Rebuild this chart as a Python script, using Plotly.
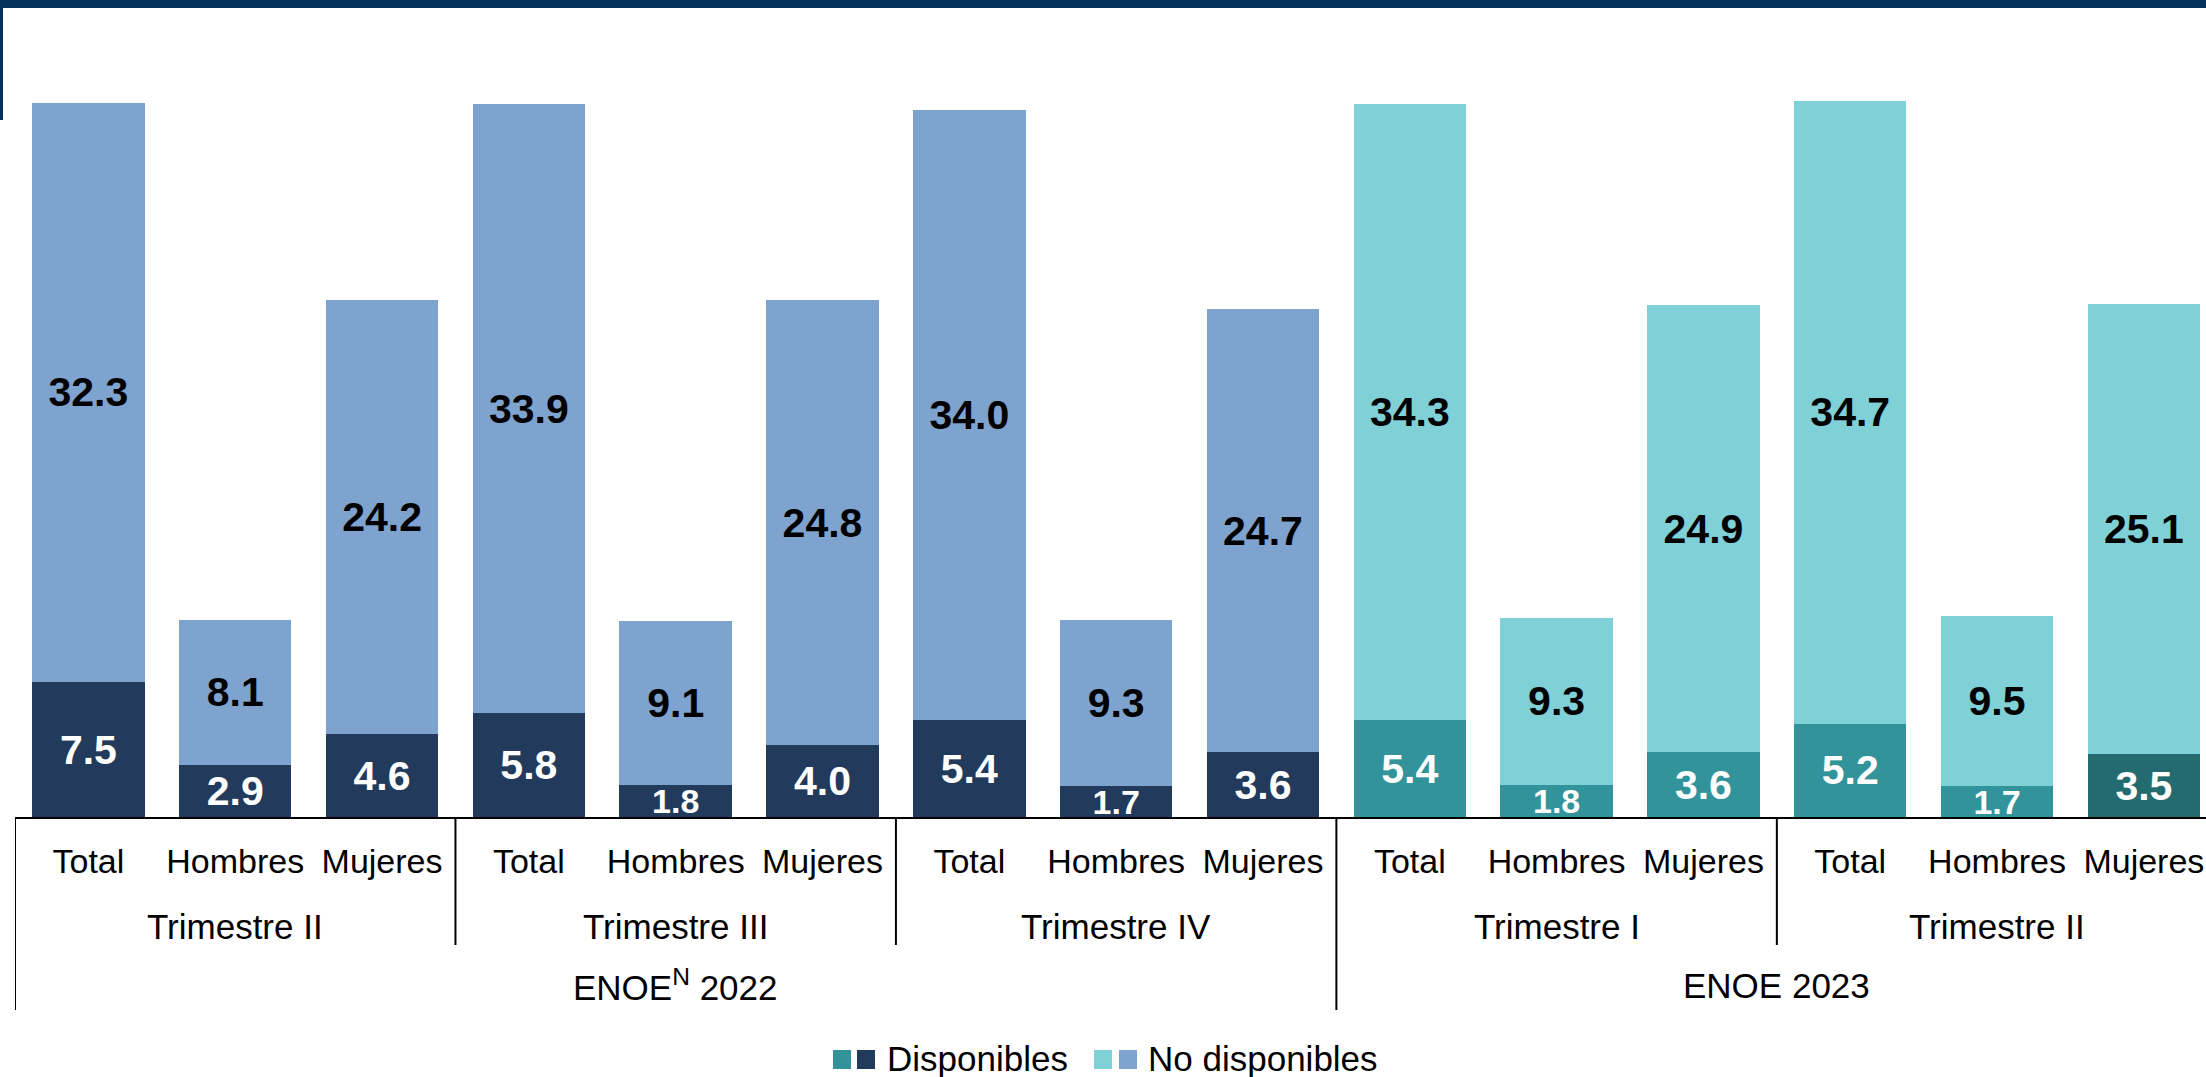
import plotly.graph_objects as go

# ---------------- data ----------------
categories = ["Total", "Hombres", "Mujeres"] * 5
trimestres = ["Trimestre II", "Trimestre III", "Trimestre IV", "Trimestre I", "Trimestre II"]
years = ["ENOE<sup>N</sup> 2022", "ENOE 2023"]
trimestres_per_year = [3, 2]
disponibles = [7.5, 2.9, 4.6, 5.8, 1.8, 4.0, 5.4, 1.7, 3.6, 5.4, 1.8, 3.6, 5.2, 1.7, 3.5]
no_disponibles = [32.3, 8.1, 24.2, 33.9, 9.1, 24.8, 34.0, 9.3, 24.7, 34.3, 9.3, 24.9, 34.7, 9.5, 25.1]
legend_labels = ["Disponibles", "No disponibles"]

# ---------------- styles ----------------
NAVY = "#223a5b"
LIGHT_BLUE = "#7fa3cf"
TEAL = "#33939a"
LIGHT_TEAL = "#80d0d7"
DARK_TEAL = "#236b6e"
BAND = "#03305a"
FONT = "Liberation Sans, Arial, sans-serif"

W, H = 2206, 1077
ML, MR, MT, MB = 15, 0, 10, 260
PW, PH = W - ML - MR, H - MT - MB
BASE = H - MB
PX_PER_UNIT = 17.95
CAT_PX = 146.82


def px_y(p):
    return (BASE - p) / PH


def px_x(p):
    return (p - ML) / PW


n = len(categories)
xs = list(range(n))
year_of_bar = []
for yi, nt in enumerate(trimestres_per_year):
    year_of_bar += [yi] * (nt * 3)

disp_colors = [NAVY if y == 0 else TEAL for y in year_of_bar]
disp_colors[-1] = DARK_TEAL
nodisp_colors = [LIGHT_BLUE if y == 0 else LIGHT_TEAL for y in year_of_bar]
disp_sizes = [34 if v < 2 else 41 for v in disponibles]

fig = go.Figure()
fig.add_trace(go.Bar(
    x=xs, y=disponibles, name=legend_labels[0], width=0.766,
    marker=dict(color=disp_colors, line=dict(width=0)),
    text=[f"{v:.1f}" for v in disponibles], textposition="inside",
    insidetextanchor="middle", constraintext="none",
    textfont=dict(family=FONT, size=disp_sizes, color="white", weight="bold"),
    showlegend=False, hoverinfo="skip",
))
fig.add_trace(go.Bar(
    x=xs, y=no_disponibles, name=legend_labels[1], width=0.766,
    marker=dict(color=nodisp_colors, line=dict(width=0)),
    text=[f"{v:.1f}" for v in no_disponibles], textposition="inside",
    insidetextanchor="middle", constraintext="none",
    textfont=dict(family=FONT, size=41, color="black", weight="bold"),
    showlegend=False, hoverinfo="skip",
))

x0 = -0.5
x1 = x0 + PW / CAT_PX

shapes = []
annotations = []

# dividers between trimesters / years
line_short = px_y(945)
line_long = px_y(1010)
year_bounds = [-0.5]
acc = 0
for nt in trimestres_per_year:
    acc += nt * 3
    year_bounds.append(acc - 0.5)
for g in range(len(trimestres) + 1):
    xb = g * 3 - 0.5
    yb = line_long if xb in year_bounds else line_short
    shapes.append(dict(type="line", xref="x", yref="paper", x0=xb, x1=xb, y0=0, y1=yb,
                       line=dict(color="black", width=2)))

# trimestre labels
for g, t in enumerate(trimestres):
    annotations.append(dict(x=g * 3 + 1, y=px_y(926), xref="x", yref="paper", text=t,
                            showarrow=False, font=dict(family=FONT, size=35, color="black"),
                            xanchor="center", yanchor="middle"))

# year labels
start = 0
for yi, nt in enumerate(trimestres_per_year):
    end = start + nt * 3
    annotations.append(dict(x=(start + end - 1) / 2, y=px_y(985), xref="x", yref="paper",
                            text=years[yi], showarrow=False,
                            font=dict(family=FONT, size=35, color="black"),
                            xanchor="center", yanchor="middle"))
    start = end

# top title band and its left border
shapes.append(dict(type="rect", xref="paper", yref="paper", x0=px_x(0), x1=px_x(W),
                   y0=px_y(8), y1=px_y(0), fillcolor=BAND, line=dict(width=0), layer="above"))
shapes.append(dict(type="line", xref="paper", yref="paper", x0=px_x(1.5), x1=px_x(1.5),
                   y0=px_y(120), y1=px_y(0), line=dict(color=BAND, width=3)))

# custom legend
LEG_Y0, LEG_Y1 = 1050, 1069
leg_items = [
    ([TEAL, NAVY], [833, 857], 885, legend_labels[0]),
    ([LIGHT_TEAL, LIGHT_BLUE], [1094, 1119], 1146, legend_labels[1]),
]
for cols, xs_sq, tx, lab in leg_items:
    for c, xq in zip(cols, xs_sq):
        shapes.append(dict(type="rect", xref="paper", yref="paper", x0=px_x(xq), x1=px_x(xq + 18),
                           y0=px_y(LEG_Y1), y1=px_y(LEG_Y0), fillcolor=c, line=dict(width=0)))
    annotations.append(dict(x=px_x(tx), y=px_y(1058), xref="paper", yref="paper", text=lab,
                            showarrow=False, font=dict(family=FONT, size=35, color="black"),
                            xanchor="left", yanchor="middle"))

fig.update_layout(
    width=W, height=H,
    margin=dict(l=ML, r=MR, t=MT, b=MB, pad=0),
    paper_bgcolor="white", plot_bgcolor="white",
    barmode="stack",
    showlegend=False,
    xaxis=dict(range=[x0, x1], tickvals=xs, ticktext=categories, showgrid=False,
               zeroline=False, showline=True, linecolor="black", linewidth=2,
               ticks="", tickfont=dict(family=FONT, size=34, color="black"),
               ticklabelstandoff=13),
    yaxis=dict(range=[0, PH / PX_PER_UNIT], visible=False, showgrid=False, zeroline=False),
    shapes=shapes,
    annotations=annotations,
)

fig.write_html("out.html", config={"displayModeBar": False},
               post_script="document.body.style.margin='0';document.body.style.overflow='hidden';")
